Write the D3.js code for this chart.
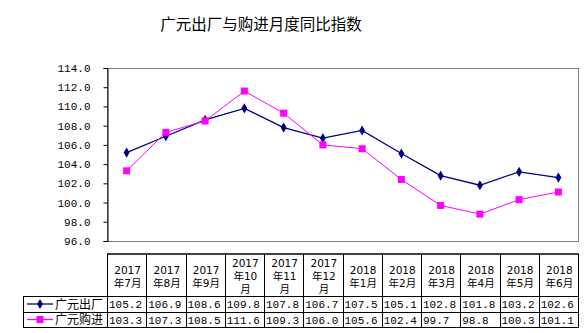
<!DOCTYPE html>
<html><head><meta charset="utf-8">
<script src="https://cdn.jsdelivr.net/npm/d3@7"></script>
<style>body{margin:0;background:#fff}svg{display:block}</style>
</head><body>
<script>
const title = "广元出厂与购进月度同比指数";
const years = ["2017","2017","2017","2017","2017","2017","2018","2018","2018","2018","2018","2018"];
const months = ["7","8","9","10","11","12","1","2","3","4","5","6"];
const seriesNames = ["广元出厂","广元购进"];
const chuchang = [105.2,106.9,108.6,109.8,107.8,106.7,107.5,105.1,102.8,101.8,103.2,102.6];
const goujin = [103.3,107.3,108.5,111.6,109.3,106.0,105.6,102.4,99.7,98.8,100.3,101.1];
const yTicks = [96,98,100,102,104,106,108,110,112,114];
const colors = ["#000080","#FF00FF"];

const W=585,H=333;
const L=107,R=578,T=68,B=241;
const svg=d3.select("body").append("svg").attr("width",W).attr("height",H);
const cats=months.map((m,i)=>years[i]+"-"+m);
const x=d3.scaleBand().domain(cats).range([L,R]).padding(0);
const y=d3.scaleLinear().domain([96,114]).range([B,T]);
const cx=d=>x(d)+x.bandwidth()/2;

svg.append("text").attr("x",261).attr("y",30).attr("text-anchor","middle")
  .attr("font-family","Noto Sans CJK SC").attr("font-size",15.5).attr("fill","#000").text(title);

svg.append("rect").attr("x",L+0.5).attr("y",T+0.5).attr("width",R-L).attr("height",B-T)
  .attr("fill","none").attr("stroke","#808080");

const ya=svg.append("g").attr("transform",`translate(${L+0.5},0)`)
  .call(d3.axisLeft(y).tickValues(yTicks).tickSize(4).tickPadding(13).tickFormat(d3.format(".1f")));
ya.select(".domain").attr("stroke","#000");
ya.selectAll(".tick line").attr("stroke","#000");
ya.selectAll("text").attr("font-family","Liberation Mono").attr("font-size",11).attr("fill","#000");

const data=[chuchang,goujin];
data.forEach((vals,si)=>{
  const line=d3.line().x((v,i)=>cx(cats[i])).y(v=>y(v));
  svg.append("path").attr("d",line(vals)).attr("fill","none").attr("stroke",colors[si])
    .attr("stroke-width",si===0?1.3:1);
});
chuchang.forEach((v,i)=>{
  svg.append("path").attr("d",d3.symbol(d3.symbolDiamond,30)())
    .attr("transform",`translate(${cx(cats[i])},${y(v)})`).attr("fill",colors[0]);
});
goujin.forEach((v,i)=>{
  svg.append("rect").attr("x",cx(cats[i])-3.5).attr("y",y(v)-3.5).attr("width",7).attr("height",7).attr("fill",colors[1]);
});

const tT=254,h1=296,h2=312,h3=327,legL=23;
const tg=svg.append("g").attr("stroke","#000").attr("fill","none");
tg.append("line").attr("x1",L).attr("x2",R+1).attr("y1",tT).attr("y2",tT).attr("stroke-width",1.5);
[h1,h2,h3].forEach(yy=>tg.append("line").attr("x1",legL).attr("x2",R+1).attr("y1",yy+0.5).attr("y2",yy+0.5));
tg.append("line").attr("x1",legL+0.5).attr("x2",legL+0.5).attr("y1",h1).attr("y2",h3+1);
cats.forEach(c=>tg.append("line").attr("x1",Math.round(x(c))+0.5).attr("x2",Math.round(x(c))+0.5).attr("y1",tT).attr("y2",h3+1));
tg.append("line").attr("x1",R+0.5).attr("x2",R+0.5).attr("y1",tT).attr("y2",h3+1);

function htext(xc,yy,s){
  svg.append("text").attr("x",xc).attr("y",yy).attr("text-anchor","middle")
    .attr("font-family","DejaVu Sans, Noto Sans CJK SC").attr("font-size",10.5).attr("fill","#000").text(s);
}
cats.forEach((c,i)=>{
  const xc=cx(c)+1;
  if(months[i].length===1){
    htext(xc,274,years[i]);
    htext(xc,287,"年"+months[i]+"月");
  } else {
    htext(xc,267,years[i]);
    htext(xc,280,"年"+months[i]);
    htext(xc,293,"月");
  }
});
const rowY=[h1,h2];
data.forEach((vals,si)=>{
  const yc=rowY[si]+(si===0?h2-h1:h3-h2)/2;
  vals.forEach((v,i)=>{
    svg.append("text").attr("x",x(cats[i])+2).attr("y",yc+4).attr("font-family","Liberation Mono").attr("font-size",11)
      .attr("fill","#000").text(v.toFixed(1));
  });
  svg.append("line").attr("x1",27).attr("x2",53).attr("y1",yc).attr("y2",yc).attr("stroke",colors[si]).attr("stroke-width",1.3);
  if(si===0) svg.append("path").attr("d",d3.symbol(d3.symbolDiamond,30)()).attr("transform",`translate(40,${yc})`).attr("fill",colors[0]);
  else svg.append("rect").attr("x",36.5).attr("y",yc-3.5).attr("width",7).attr("height",7).attr("fill",colors[1]);
  svg.append("text").attr("x",55).attr("y",yc+4.5).attr("font-family","Noto Sans CJK SC").attr("font-size",12).attr("fill","#000").text(seriesNames[si]);
});
</script>
</body></html>
